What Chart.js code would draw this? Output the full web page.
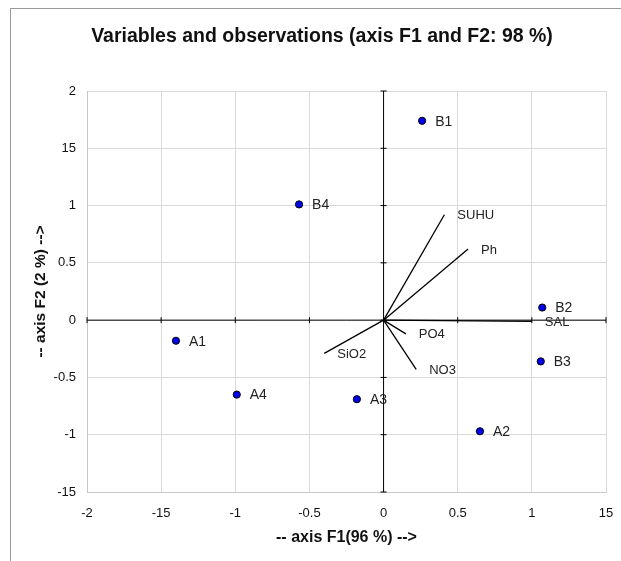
<!DOCTYPE html>
<html>
<head>
<meta charset="utf-8">
<script src="https://cdn.jsdelivr.net/npm/chart.js@4.4.1/dist/chart.umd.min.js"></script>
<style>
  html, body { margin: 0; padding: 0; background: #fff; overflow: hidden; }
  #wrap { position: relative; width: 621px; height: 561px; }
  #frame { position: absolute; left: 10px; top: 8px; width: 800px; height: 800px;
           border-left: 1px solid #9a9a9a; border-top: 1px solid #9a9a9a; }
  canvas { position: absolute; left: 0; top: 0; }
</style>
</head>
<body>
<div id="wrap">
  <div id="frame"></div>
  <canvas id="chart" width="621" height="561"></canvas>
</div>
<script>
// observations (F1, F2)
const obsNames = ['B1', 'B4', 'A1', 'A4', 'A3', 'A2', 'B2', 'B3'];
const obsF1 = [0.26, -0.57, -1.40, -0.99, -0.18, 0.65, 1.07, 1.06];
const obsF2 = [1.74, 1.01, -0.18, -0.65, -0.69, -0.97, 0.11, -0.36];

// variables (vector ends)
const varNames = ['SUHU', 'Ph', 'SAL', 'PO4', 'NO3', 'SiO2'];
const varF1 = [0.41, 0.57, 1.00, 0.15, 0.22, -0.40];
const varF2 = [0.92, 0.62, -0.01, -0.12, -0.43, -0.29];

// tick labels as printed in the picture
const xTickLabels = ['-2', '-15', '-1', '-0.5', '0', '0.5', '1', '15'];
const yTickLabels = ['-15', '-1', '-0.5', '0', '0.5', '1', '15', '2'];

const titleText = 'Variables and observations (axis F1 and F2: 98 %)';
const FONT = '"Liberation Sans", Arial, sans-serif';

const datasets = [{
    label: 'obs',
    data: obsF1.map((x, i) => ({ x: x, y: obsF2[i] })),
    pointRadius: 3.6,
    pointBackgroundColor: '#0000ee',
    pointBorderColor: '#000',
    pointBorderWidth: 1,
    showLine: false
}];
varNames.forEach((n, i) => {
    datasets.push({
        label: n,
        data: [{ x: 0, y: 0 }, { x: varF1[i], y: varF2[i] }],
        showLine: true,
        borderColor: '#000',
        borderWidth: 1.3,
        pointRadius: 0
    });
});

// black zero axes with small tick marks
const zeroAxes = {
    id: 'zeroAxes',
    afterDatasetsDraw(chart) {
        const { ctx, chartArea: a, scales: { x, y } } = chart;
        const x0 = x.getPixelForValue(0), y0 = y.getPixelForValue(0);
        ctx.save();
        ctx.strokeStyle = '#000';
        ctx.lineWidth = 1;
        ctx.beginPath();
        ctx.moveTo(x0, a.top); ctx.lineTo(x0, a.bottom);
        ctx.moveTo(a.left, y0); ctx.lineTo(a.right, y0);
        x.ticks.forEach(t => {
            const px = x.getPixelForValue(t.value);
            ctx.moveTo(px, y0 - 3); ctx.lineTo(px, y0 + 3);
        });
        y.ticks.forEach(t => {
            const py = y.getPixelForValue(t.value);
            ctx.moveTo(x0 - 3, py); ctx.lineTo(x0 + 3, py);
        });
        ctx.stroke();
        ctx.restore();
    }
};

// text labels next to points and vector ends, plus the title
const pointLabels = {
    id: 'pointLabels',
    afterDatasetsDraw(chart) {
        const { ctx, scales: { x, y } } = chart;
        ctx.save();
        ctx.fillStyle = '#222';
        ctx.textAlign = 'left';
        ctx.textBaseline = 'middle';
        ctx.font = '14px ' + FONT;
        obsNames.forEach((n, i) => {
            ctx.fillText(n, x.getPixelForValue(obsF1[i]) + 13, y.getPixelForValue(obsF2[i]) + 1);
        });
        ctx.font = '13px ' + FONT;
        varNames.forEach((n, i) => {
            ctx.fillText(n, x.getPixelForValue(varF1[i]) + 13, y.getPixelForValue(varF2[i]) + 1);
        });
        // title sits a bit left of the plot centre in the original
        ctx.fillStyle = '#111';
        ctx.textAlign = 'center';
        ctx.font = 'bold 19.5px ' + FONT;
        ctx.fillText(titleText, 322, 37);
        ctx.restore();
    }
};

new Chart(document.getElementById('chart'), {
    type: 'scatter',
    data: { datasets: datasets },
    options: {
        responsive: false,
        animation: false,
        layout: { padding: { left: 0, right: 15, top: 91, bottom: 0 } },
        plugins: {
            legend: { display: false },
            tooltip: { enabled: false },
            title: { display: false }
        },
        scales: {
            x: {
                type: 'linear',
                min: -2, max: 1.5,
                afterFit(s) { s.height = 69; s.paddingRight = 0; s.paddingLeft = 0; },
                ticks: {
                    stepSize: 0.5,
                    padding: 14,
                    color: '#111',
                    font: { family: FONT, size: 13 },
                    maxRotation: 0,
                    callback: (v, i) => xTickLabels[i]
                },
                grid: { color: '#d9d9d9', drawTicks: false },
                border: { color: '#c8c8c8' },
                title: {
                    display: true,
                    text: '-- axis F1(96 %) -->',
                    color: '#111',
                    font: { family: FONT, size: 16, weight: 'bold' },
                    padding: { top: 0, bottom: 14 }
                }
            },
            y: {
                type: 'linear',
                min: -1.5, max: 2,
                afterFit(s) { s.width = 87; s.paddingTop = 0; s.paddingBottom = 0; },
                ticks: {
                    stepSize: 0.5,
                    padding: 11,
                    color: '#111',
                    font: { family: FONT, size: 13 },
                    callback: (v, i) => yTickLabels[i]
                },
                grid: { color: '#d9d9d9', drawTicks: false },
                border: { color: '#c8c8c8' },
                title: {
                    display: true,
                    text: '-- axis F2 (2 %) -->',
                    color: '#111',
                    font: { family: FONT, size: 15.5, weight: 'bold' },
                    padding: { top: 31, bottom: 0 }
                }
            }
        }
    },
    plugins: [zeroAxes, pointLabels]
});
</script>
</body>
</html>
